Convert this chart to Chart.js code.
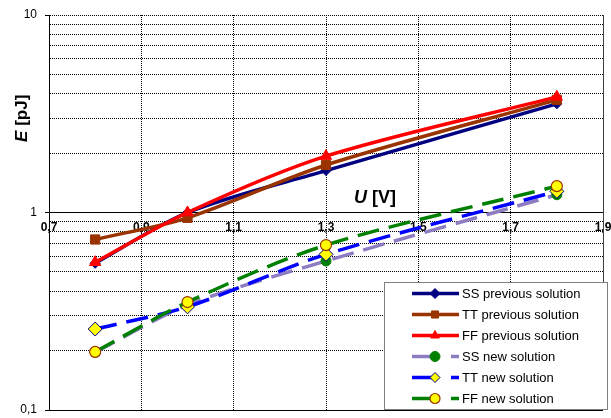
<!DOCTYPE html>
<html>
<head>
<meta charset="utf-8">
<script src="https://cdn.jsdelivr.net/npm/chart.js@4"></script>
<style>
  html, body { margin: 0; padding: 0; background: #fff; }
  canvas { display: block; }
</style>
</head>
<body>
<canvas id="chart" width="611" height="418"></canvas>
<script>
// Supply voltage U [V] of each measurement
const voltages = [0.8, 1.0, 1.3, 1.8];

// Energy E [pJ] per corner
const ssPrevious = [0.553, 1.0, 1.63, 3.55];
const ttPrevious = [0.73, 0.94, 1.74, 3.72];
const ffPrevious = [0.56, 1.0, 1.93, 3.85];
const ssNew = [0.196, 0.34, 0.568, 1.23];
const ttNew = [0.257, 0.333, 0.614, 1.28];
const ffNew = [0.197, 0.352, 0.684, 1.36];

const seriesNames = [
  'SS previous solution', 'TT previous solution', 'FF previous solution',
  'SS new solution', 'TT new solution', 'FF new solution'
];

// Axis ticks
const xTicks = [0.7, 0.9, 1.1, 1.3, 1.5, 1.7, 1.9];
const yTicks = [0.1, 0.2, 0.3, 0.4, 0.5, 0.6, 0.7, 0.8, 0.9,
                1, 2, 3, 4, 5, 6, 7, 8, 9, 10];
const yLabelled = [0.1, 1, 10];

const FONT = '"Liberation Sans", Arial, sans-serif';
const toPoints = vals => vals.map((v, i) => ({ x: voltages[i], y: v }));
const comma = v => String(v).replace('.', ',');

const styles = [
  { line: '#000080', dash: [], ps: 'rectRot', r: 5, fill: '#000080', edge: '#000080', bw: 1 },
  { line: '#993300', dash: [], ps: 'rect', r: 6.5, fill: '#993300', edge: '#993300', bw: 1 },
  { line: '#FF0000', dash: [], ps: 'triangle', r: 6.5, fill: '#FF0000', edge: '#FF0000', bw: 1 },
  { line: '#8E7CC3', dash: [22, 10], ps: 'circle', r: 5, fill: '#008000', edge: '#008000', bw: 1 },
  { line: '#0000FF', dash: [22, 10], ps: 'rectRot', r: 7, fill: '#FFFF00', edge: '#000080', bw: 1 },
  { line: '#008000', dash: [22, 10], ps: 'circle', r: 5.5, fill: '#FFFF00', edge: '#993300', bw: 1.2 }
];
const seriesValues = [ssPrevious, ttPrevious, ffPrevious, ssNew, ttNew, ffNew];

const datasets = seriesValues.map((vals, i) => ({
  label: seriesNames[i],
  data: toPoints(vals),
  borderColor: styles[i].line,
  borderWidth: 3.5,
  borderDash: styles[i].dash,
  borderCapStyle: 'butt',
  tension: 0.3,
  pointStyle: styles[i].ps,
  pointRadius: styles[i].r,
  pointBackgroundColor: styles[i].fill,
  pointBorderColor: styles[i].edge,
  pointBorderWidth: styles[i].bw,
  order: 6 - i
}));

// Solid frame lines at the bottom and right edge of the plot
const framePlugin = {
  id: 'frame',
  beforeDatasetsDraw(chart) {
    const { ctx, chartArea: a } = chart;
    ctx.save();
    ctx.lineWidth = 1;
    ctx.strokeStyle = '#000';
    ctx.beginPath();
    ctx.moveTo(a.left, Math.round(a.bottom) + 0.5);
    ctx.lineTo(a.right, Math.round(a.bottom) + 0.5);
    ctx.stroke();
    ctx.strokeStyle = '#404040';
    ctx.beginPath();
    ctx.moveTo(Math.round(a.right) + 0.5, a.top);
    ctx.lineTo(Math.round(a.right) + 0.5, a.bottom);
    ctx.stroke();
    ctx.restore();
  }
};

// Axis titles with an italic symbol followed by the unit
function drawTitle(ctx, sym, unit, size) {
  ctx.font = 'italic bold ' + size + 'px ' + FONT;
  const w1 = ctx.measureText(sym).width;
  ctx.font = 'bold ' + size + 'px ' + FONT;
  const w2 = ctx.measureText(unit).width;
  const start = -(w1 + w2) / 2;
  ctx.textBaseline = 'middle';
  ctx.textAlign = 'left';
  ctx.font = 'italic bold ' + size + 'px ' + FONT;
  ctx.fillText(sym, start, 0);
  ctx.font = 'bold ' + size + 'px ' + FONT;
  ctx.fillText(unit, start + w1, 0);
}

const titlePlugin = {
  id: 'axisTitles',
  afterDraw(chart) {
    const { ctx } = chart;
    const x = chart.scales.x, y = chart.scales.y;
    ctx.save();
    ctx.fillStyle = '#000';
    ctx.translate(x.getPixelForValue(1.406), y.getPixelForValue(1.19));
    drawTitle(ctx, 'U', ' [V]', 18);
    ctx.restore();
    ctx.save();
    ctx.fillStyle = '#000';
    ctx.translate(22, y.getPixelForValue(3));
    ctx.rotate(-Math.PI / 2);
    drawTitle(ctx, 'E', ' [pJ]', 17);
    ctx.restore();
  }
};

// Framed legend inside the lower right corner of the plot
const legendPlugin = {
  id: 'boxLegend',
  afterDraw(chart) {
    const { ctx } = chart;
    const bx = 384.5, by = 282.5, bw = 223, bh = 127;
    ctx.save();
    ctx.fillStyle = '#fff';
    ctx.fillRect(bx, by, bw, bh);
    ctx.strokeStyle = '#808080';
    ctx.lineWidth = 1;
    ctx.strokeRect(bx, by, bw, bh);
    chart.data.datasets.forEach((ds, i) => {
      const yy = 293.5 + i * 21;
      ctx.strokeStyle = ds.borderColor;
      ctx.lineWidth = 3.5;
      ctx.lineCap = 'butt';
      ctx.setLineDash([]);
      ctx.beginPath();
      if (ds.borderDash.length) {
        ctx.moveTo(412, yy); ctx.lineTo(437, yy);
        ctx.moveTo(451, yy); ctx.lineTo(459, yy);
      } else {
        ctx.moveTo(412, yy); ctx.lineTo(459, yy);
      }
      ctx.stroke();
      ctx.fillStyle = ds.pointBackgroundColor;
      ctx.strokeStyle = ds.pointBorderColor;
      ctx.lineWidth = ds.pointBorderWidth;
      Chart.helpers.drawPoint(ctx, {
        pointStyle: ds.pointStyle,
        radius: Math.min(ds.pointRadius, 5),
        rotation: 0,
        borderWidth: ds.pointBorderWidth
      }, 435, yy);
      ctx.fillStyle = '#000';
      ctx.font = '13px ' + FONT;
      ctx.textAlign = 'left';
      ctx.textBaseline = 'middle';
      ctx.fillText(ds.label, 462, yy + 1);
    });
    ctx.restore();
  }
};

new Chart(document.getElementById('chart'), {
  type: 'line',
  data: { datasets },
  plugins: [framePlugin, titlePlugin, legendPlugin],
  options: {
    responsive: false,
    animation: false,
    layout: { padding: { left: 0, top: 15, right: 4, bottom: 7 } },
    plugins: { legend: { display: false }, tooltip: { enabled: false } },
    scales: {
      x: {
        type: 'linear',
        position: { y: 1 },
        min: 0.7,
        max: 1.9,
        afterBuildTicks: s => { s.ticks = xTicks.map(v => ({ value: v })); },
        afterFit: s => { s.paddingLeft = 0; s.paddingRight = 0; s.height = 0; },
        ticks: {
          autoSkip: false,
          maxRotation: 0,
          padding: 8,
          color: '#000',
          font: { family: FONT, size: 12, weight: 'bold' },
          callback: v => comma(v.toFixed(1))
        },
        grid: { color: '#000', lineWidth: 1, drawTicks: false },
        border: { display: true, color: '#000', width: 1, dash: [1, 1] }
      },
      y: {
        type: 'logarithmic',
        position: 'left',
        min: 0.1,
        max: 10,
        afterBuildTicks: s => { s.ticks = yTicks.map(v => ({ value: v, major: yLabelled.includes(v) })); },
        afterFit: s => { s.width = 49; s.paddingTop = 0; s.paddingBottom = 0; },
        ticks: {
          autoSkip: false,
          padding: 8,
          color: '#000',
          font: { family: FONT, size: 12 },
          callback: v => (yLabelled.includes(v) ? comma(v) : '')
        },
        grid: {
          color: '#000',
          lineWidth: 1,
          tickLength: 4,
          tickColor: c => (c.tick && yLabelled.includes(c.tick.value) ? '#000' : 'rgba(0,0,0,0)')
        },
        border: { display: true, color: '#000', width: 1, dash: [1, 1] }
      }
    }
  }
});
</script>
</body>
</html>
